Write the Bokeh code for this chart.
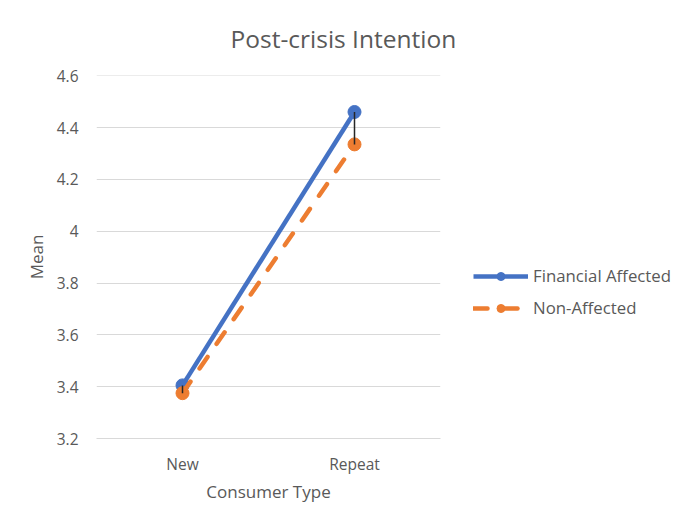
from bokeh.plotting import figure
from bokeh.models import FactorRange, FixedTicker, CustomJSTickFormatter, Legend, LegendItem, Range1d
from bokeh.embed import file_html
from bokeh.resources import INLINE

categories = ["New", "Repeat"]
financial_affected = [3.405, 4.46]
non_affected = [3.375, 4.335]
y_ticks = [3.2, 3.4, 3.6, 3.8, 4.0, 4.2, 4.4, 4.6]

FONT = "Open Sans"
GRAY = "#595959"

p = figure(frame_width=344, frame_height=363, x_range=FactorRange(*categories), y_range=Range1d(3.2, 4.6008),
           output_backend="svg", toolbar_location=None,
           min_border_left=96, min_border_right=244, min_border_top=75, min_border_bottom=91)

p.title.text = "Post-crisis Intention"
p.title.align = "left"
p.title.vertical_align = "middle"
p.title.offset = 134
p.title.text_font = FONT
p.title.text_font_size = "24.5px"
p.title.text_font_style = "normal"
p.title.text_color = GRAY
p.title.standoff = 40

p.outline_line_color = None
p.xgrid.grid_line_color = None
p.ygrid.grid_line_color = "#D9D9D9"
p.ygrid.grid_line_width = 1

p.yaxis.ticker = FixedTicker(ticks=y_ticks)
p.yaxis.formatter = CustomJSTickFormatter(code="return String(+tick.toFixed(2));")
p.yaxis.axis_line_color = None
p.yaxis.major_tick_line_color = None
p.yaxis.minor_tick_line_color = None
p.yaxis.major_label_standoff = 12
p.yaxis.axis_label = "Mean"
p.yaxis.axis_label_standoff = 6

p.xaxis.axis_line_color = "#D9D9D9"
p.xaxis.major_tick_line_color = None
p.xaxis.minor_tick_line_color = None
p.xaxis.major_label_standoff = 8
p.xaxis.axis_label = "Consumer Type"
p.xaxis.axis_label_standoff = 2

for ax in (p.xaxis[0], p.yaxis[0]):
    ax.major_label_text_font = FONT
    ax.major_label_text_font_size = "15.5px"
    ax.major_label_text_color = GRAY
    ax.axis_label_text_font = FONT
    ax.axis_label_text_font_size = "17px"
    ax.axis_label_text_font_style = "normal"
    ax.axis_label_text_color = GRAY

BLUE = "#4472C4"
ORANGE = "#ED7D31"

l1 = p.line(categories, financial_affected, line_color=BLUE, line_width=4.5)
s1 = p.scatter(categories, financial_affected, size=13, fill_color=BLUE, line_color=BLUE)
l2 = p.line(categories, non_affected, line_color=ORANGE, line_width=4.5, line_dash="14 16",
            line_cap="round")
s2 = p.scatter(categories, non_affected, size=13, fill_color=ORANGE, line_color=ORANGE)

p.segment(x0=categories, y0=financial_affected, x1=categories, y1=non_affected,
          line_color="#262626", line_width=1.5)

legend = Legend(items=[LegendItem(label="Financial Affected", renderers=[l1, s1]),
                       LegendItem(label="Non-Affected", renderers=[l2, s2])],
                location=(33, 119), orientation="vertical")
legend.glyph_width = 55
legend.glyph_height = 20
legend.label_height = 20
legend.label_standoff = 5
legend.spacing = 9
legend.padding = 0
legend.margin = 0
legend.border_line_color = None
legend.background_fill_alpha = 0
legend.label_text_font = FONT
legend.label_text_font_size = "16.8px"
legend.label_text_color = GRAY
p.add_layout(legend, "right")

open("out.html", "w").write(file_html(p, INLINE))
